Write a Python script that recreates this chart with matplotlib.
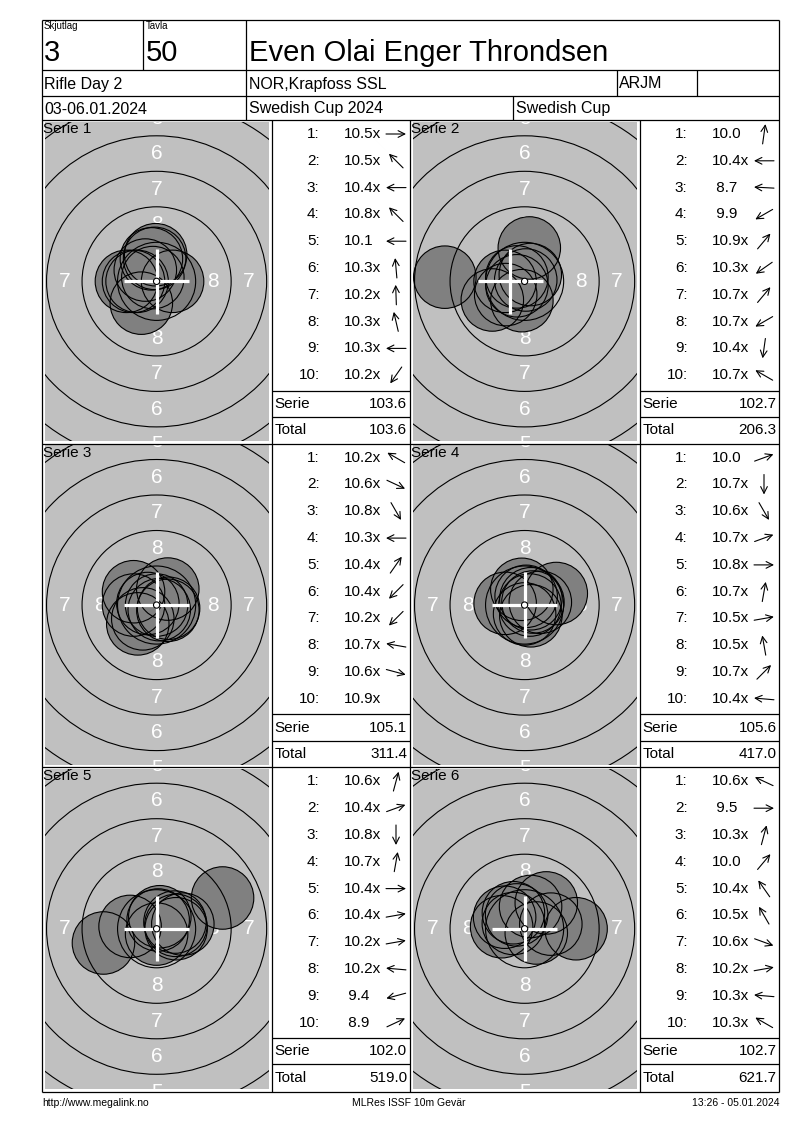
import numpy as np
import matplotlib
matplotlib.use('Agg')
import matplotlib.pyplot as plt
from matplotlib.patches import Circle

plt.rcParams['font.family'] = ['Liberation Sans', 'DejaVu Sans']

# header info
relay = "3"
lane = "50"
shooter = "Even Olai Enger Throndsen"
event = "Rifle Day 2"
club = "NOR,Krapfoss SSL"
klass = "ARJM"
dates = "03-06.01.2024"
competition = "Swedish Cup 2024"
cup = "Swedish Cup"
footer_left = "http://www.megalink.no"
footer_mid = "MLRes ISSF 10m Gevär"
footer_right = "13:26 - 05.01.2024"

# shot values per serie
scores = [
    [10.5, 10.5, 10.4, 10.8, 10.1, 10.3, 10.2, 10.3, 10.3, 10.2],
    [10.0, 10.4, 8.7, 9.9, 10.9, 10.3, 10.7, 10.7, 10.4, 10.7],
    [10.2, 10.6, 10.8, 10.3, 10.4, 10.4, 10.2, 10.7, 10.6, 10.9],
    [10.0, 10.7, 10.6, 10.7, 10.8, 10.7, 10.5, 10.5, 10.7, 10.4],
    [10.6, 10.4, 10.8, 10.7, 10.4, 10.4, 10.2, 10.2, 9.4, 8.9],
    [10.6, 9.5, 10.3, 10.0, 10.4, 10.5, 10.6, 10.2, 10.3, 10.3],
]
# direction of each shot from centre, degrees (0 = right, 90 = up), None = centre
angles = [
    [0, 135, 180, 135, 180, 95, 92, 103, 180, 235],
    [82, 180, 177, 210, 50, 215, 50, 210, 262, 150],
    [150, 335, 300, 180, 55, 225, 225, 170, 345, None],
    [20, 270, 300, 20, 0, 80, 10, 100, 45, 175],
    [75, 20, 270, 80, 0, 10, 10, 175, 195, 25],
    [155, 0, 75, 50, 125, 120, 340, 10, 175, 150],
]
# white cross position (mm)
cross_x = [0.0, -1.0, 0.0, 0.0, 0.0, 0.0]
cross_y = [0.0, 0.0, 0.0, 0.0, 0.0, 0.0]

W, H = 800, 1130
PXMM = 14.2          # pixels per mm on the target pictures
PELLET = 2.2         # drawn pellet radius, mm
LEFT, RIGHT, TOP, BOTTOM = 42, 779, 20, 1092
ROW_TOP = 120
ROW_H = 323.7
COLS = [(42, 272, 410), (410, 640, 779)]   # target left, list left, list right


def fig_rect(x0, y0, x1, y1):
    return [x0 / W, 1 - y1 / H, (x1 - x0) / W, (y1 - y0) / H]


fig = plt.figure(figsize=(W / 100, H / 100), dpi=100)

# ---- target pictures ----
for k in range(6):
    row, col = k // 2, k % 2
    tx0, tx1, _ = COLS[col]
    y0 = ROW_TOP + row * ROW_H
    gx0, gx1 = tx0 + 2.5, tx1 - 3.3
    gy0, gy1 = y0 + 1.5, y0 + ROW_H - 2.5
    ax = fig.add_axes(fig_rect(gx0, gy0, gx1, gy1))
    ax.set_facecolor('#c0c0c0')
    hw = (gx1 - gx0) / 2 / PXMM
    hh = (gy1 - gy0) / 2 / PXMM
    ax.set_xlim(-hw, hw)
    ax.set_ylim(-hh, hh)
    ax.set_xticks([])
    ax.set_yticks([])
    for s in ax.spines.values():
        s.set_visible(False)

    # ring numbers (only those that fall on the visible part)
    for n in [8, 7, 6, 5]:
        r = (10 - n) * 2.5 - 1.0
        for px, py in [(0, r), (0, -r), (-r, 0), (r, 0)]:
            if abs(px) > hw - 0.3 or abs(py) > hh + 0.4:
                continue
            ax.text(px, py, str(n), color='white', fontsize=15, ha='center',
                    va='center', zorder=2, clip_on=True)

    # shots
    sc = np.array(scores[k])
    dist = (10.95 - sc) * 2.5
    xs, ys = [], []
    for d, a in zip(dist, angles[k]):
        if a is None:
            xs.append(0.0)
            ys.append(0.0)
        else:
            xs.append(d * np.cos(np.radians(a)))
            ys.append(d * np.sin(np.radians(a)))
    for x, y in zip(xs, ys):
        ax.add_patch(Circle((x, y), PELLET, facecolor='#808080', edgecolor='none', zorder=3))
    for n in range(9, 3, -1):
        ax.add_patch(Circle((0, 0), (10 - n) * 2.5 + 0.25, fill=False,
                            edgecolor='black', lw=0.8, zorder=4))
    for x, y in zip(xs, ys):
        ax.add_patch(Circle((x, y), PELLET, fill=False, edgecolor='black', lw=0.8, zorder=5))

    # cross
    cx, cy = cross_x[k], cross_y[k]
    ax.plot([cx - 2.3, cx + 2.3], [cy, cy], color='white', lw=2.3, zorder=6,
            solid_capstyle='butt')
    ax.plot([cx, cx], [cy - 2.3, cy + 2.3], color='white', lw=2.3, zorder=6,
            solid_capstyle='butt')
    ax.add_patch(Circle((0, 0), 0.22, facecolor='white', edgecolor='black', lw=0.8, zorder=7))

# ---- overlay with table, texts and arrows ----
ov = fig.add_axes([0, 0, 1, 1])
ov.set_xlim(0, W)
ov.set_ylim(H, 0)
ov.axis('off')

LW = 0.9


def hline(y, x0=LEFT, x1=RIGHT):
    ov.plot([x0, x1], [y, y], color='black', lw=LW, solid_capstyle='butt')


def vline(x, y0, y1):
    ov.plot([x, x], [y0, y1], color='black', lw=LW, solid_capstyle='butt')


# frame
hline(TOP)
hline(BOTTOM)
vline(LEFT, TOP, BOTTOM)
vline(RIGHT, TOP, BOTTOM)
hline(70)
hline(96)
hline(ROW_TOP)
vline(143, TOP, 70)
vline(246, TOP, 70)
vline(246, 70, 96)
vline(617, 70, 96)
vline(697, 70, 96)
vline(246, 96, ROW_TOP)
vline(513, 96, ROW_TOP)
for r in range(1, 3):
    hline(ROW_TOP + r * ROW_H)
for x in [272, 410, 640]:
    vline(x, ROW_TOP, BOTTOM)

# header texts
ov.text(44, 21, "Skjutlag", fontsize=7, ha='left', va='top')
ov.text(146, 21, "Tavla", fontsize=7, ha='left', va='top')
ov.text(44, 53, relay, fontsize=21, ha='left', va='center')
ov.text(146, 53, lane, fontsize=21, ha='left', va='center')
ov.text(249, 53, shooter, fontsize=21, ha='left', va='center')
ov.text(44, 84, event, fontsize=11.5, ha='left', va='center')
ov.text(249, 84, club, fontsize=11.5, ha='left', va='center')
ov.text(619, 84, klass, fontsize=11.5, ha='left', va='center')
ov.text(44, 109, dates, fontsize=11.5, ha='left', va='center')
ov.text(249, 109, competition, fontsize=11.5, ha='left', va='center')
ov.text(516, 109, cup, fontsize=11.5, ha='left', va='center')

# shot lists
running = 0.0
for k in range(6):
    row, col = k // 2, k % 2
    tx0, lx0, lx1 = COLS[col]
    y0 = ROW_TOP + row * ROW_H
    ov.text(tx0 + 1, y0 + 2, f"Serie {k + 1}", fontsize=11, ha='left', va='top', zorder=10)
    for i, (s, a) in enumerate(zip(scores[k], angles[k])):
        yy = y0 + 14 + 26.8 * i
        ov.text(lx0 + 47.5, yy, f"{i + 1}:", fontsize=11, ha='right', va='center')
        lab = f"{s:.1f}" + ("x" if s >= 10.2 else "")
        if s < 10:
            lab = " " + lab
        ov.text(lx0 + 71.5, yy, lab, fontsize=11, ha='left', va='center')
        if a is not None:
            ux, uy = np.cos(np.radians(a)), -np.sin(np.radians(a))
            acx = lx0 + 124
            ov.annotate('', xy=(acx + 10 * ux, yy + 10 * uy),
                        xytext=(acx - 10 * ux, yy - 10 * uy),
                        arrowprops=dict(arrowstyle='->, head_length=0.6, head_width=0.3',
                                        lw=0.8, color='black', shrinkA=0, shrinkB=0,
                                        mutation_scale=8))
    tot = round(sum(scores[k]), 1)
    running = round(running + tot, 1)
    hline(y0 + 270.7, lx0, lx1)
    hline(y0 + 297, lx0, lx1)
    ov.text(lx0 + 2.5, y0 + 284, "Serie", fontsize=11, ha='left', va='center')
    ov.text(lx1 - 2.5, y0 + 284, f"{tot:.1f}", fontsize=11, ha='right', va='center')
    ov.text(lx0 + 2.5, y0 + 310.5, "Total", fontsize=11, ha='left', va='center')
    ov.text(lx1 - 2.5, y0 + 310.5, f"{running:.1f}", fontsize=11, ha='right', va='center')

# footer
ov.text(42, 1103, footer_left, fontsize=7.5, ha='left', va='center')
ov.text(409, 1103, footer_mid, fontsize=7.5, ha='center', va='center')
ov.text(779, 1103, footer_right, fontsize=7.5, ha='right', va='center')

fig.savefig('out.png', dpi=100, facecolor='white')
